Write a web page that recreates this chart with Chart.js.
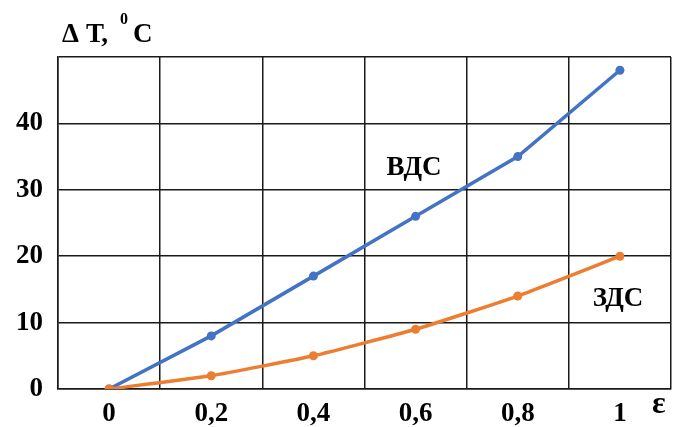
<!DOCTYPE html>
<html>
<head>
<meta charset="utf-8">
<script src="https://cdn.jsdelivr.net/npm/chart.js@4/dist/chart.umd.min.js"></script>
<style>
html,body{margin:0;padding:0;background:#fff;}
#wrap{width:680px;height:427px;position:relative;}
</style>
</head>
<body>
<div id="wrap"><canvas id="c" width="680" height="427"></canvas></div>
<script>
const categories = ['0', '0,2', '0,4', '0,6', '0,8', '1'];
const vdsValues = [0, 8, 17, 26, 35, 48];
const zdsValues = [0, 2, 5, 9, 14, 20];
const yTicks = [0, 10, 20, 30, 40];

const FONT = '"Liberation Serif", "Times New Roman", serif';

const textPlugin = {
  id: 'texts',
  afterDraw(chart) {
    const ctx = chart.ctx;
    ctx.save();
    ctx.fillStyle = '#000';
    ctx.textBaseline = 'alphabetic';
    ctx.textAlign = 'left';
    // axis title
    ctx.font = 'bold 27px ' + FONT;
    ctx.fillText('Δ', 62, 42);
    ctx.fillText('Т,', 86, 42);
    ctx.font = 'bold 16px ' + FONT;
    ctx.fillText('0', 120, 24);
    ctx.font = 'bold 27px ' + FONT;
    ctx.fillText('С', 133, 42);
    // epsilon
    ctx.font = 'bold 32px ' + FONT;
    ctx.fillText('ε', 652, 413);
    // series annotations
    ctx.textAlign = 'center';
    ctx.textBaseline = 'alphabetic';
    ctx.font = 'bold 27px ' + FONT;
    ctx.fillText('ВДС', 414, 175);
    ctx.fillText('ЗДС', 618, 306);
    ctx.restore();
  }
};

new Chart(document.getElementById('c'), {
  type: 'line',
  data: {
    labels: categories,
    datasets: [
      {
        label: 'ВДС',
        data: vdsValues,
        borderColor: '#4472C4',
        backgroundColor: '#4472C4',
        borderWidth: 3.5,
        pointRadius: 4.5,
        pointBorderWidth: 0,
        tension: 0,
        order: 1
      },
      {
        label: 'ЗДС',
        data: zdsValues,
        borderColor: '#ED7D31',
        backgroundColor: '#ED7D31',
        borderWidth: 3.5,
        pointRadius: 4.5,
        pointBorderWidth: 0,
        tension: 0.15,
        order: 0
      }
    ]
  },
  options: {
    responsive: false,
    animation: false,
    layout: { padding: { top: 57, right: 9, left: 0, bottom: 0 } },
    plugins: { legend: { display: false }, tooltip: { enabled: false } },
    scales: {
      x: {
        type: 'category',
        offset: true,
        grid: { offset: true, color: '#1a1a1a', lineWidth: 1.5, drawTicks: false },
        border: { color: '#1a1a1a', width: 1.5 },
        ticks: { color: '#000', font: { family: FONT, size: 27, weight: 'bold' }, padding: 9, maxRotation: 0 },
        afterFit(s) { s.height = 38; }
      },
      y: {
        min: 0,
        max: 50,
        grid: { color: '#1a1a1a', lineWidth: 1.5, drawTicks: false },
        border: { color: '#1a1a1a', width: 1.5 },
        ticks: {
          stepSize: 10,
          color: '#000',
          font: { family: FONT, size: 27, weight: 'bold' },
          padding: 15,
          callback: (v) => yTicks.includes(v) ? String(v) : ''
        },
        afterFit(s) { s.width = 58; }
      }
    }
  },
  plugins: [textPlugin]
});
</script>
</body>
</html>
